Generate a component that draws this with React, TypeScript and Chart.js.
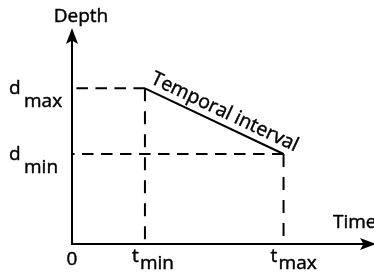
import React, { useEffect, useRef } from "react";
import { Chart, registerables } from "chart.js";

Chart.register(...registerables);

// ---- data ----
const tMin = 1;
const tMax = 2.9;
const dMin = 1;
const dMax = 1.73;
const timeAxisMax = 4.14;
const depthAxisMax = 2.4;

const intervalTimes = [tMin, tMax];
const intervalDepths = [dMax, dMin];

const timeTicks = [0, tMin, tMax];
const timeTickMain = ["0", "t", "t"];
const timeTickSub = ["", "min", "max"];

const depthTicks = [dMax, dMin];
const depthTickMain = ["d", "d"];
const depthTickSub = ["max", "min"];

const xTitle = "Time";
const yTitle = "Depth";
const intervalLabel = "Temporal interval";

const FAMILY = "'Open Sans', 'DejaVu Sans', sans-serif";
const FONT = "19px " + FAMILY;
const INK = "#000";
const H_DASH = [11.5, 7.5];
const V_DASH = [13, 10];

function txt(ctx: CanvasRenderingContext2D, s: string, x: number, y: number) {
  ctx.fillText(s, x, y);
  ctx.strokeText(s, x, y);
}

const diagramPlugin = {
  id: "diagram",
  afterDatasetsDraw(chart: any) {
    const ctx = chart.ctx as CanvasRenderingContext2D;
    const xs = chart.scales.x;
    const ys = chart.scales.y;
    const x0 = xs.getPixelForValue(0);
    const y0 = ys.getPixelForValue(0);
    const xEnd = xs.getPixelForValue(timeAxisMax);
    const yEnd = ys.getPixelForValue(depthAxisMax);
    ctx.save();
    ctx.strokeStyle = INK;
    ctx.fillStyle = INK;
    ctx.lineWidth = 2;
    // axes
    ctx.beginPath();
    ctx.moveTo(x0, y0 + 1);
    ctx.lineTo(x0, yEnd + 10);
    ctx.moveTo(x0 - 1, y0);
    ctx.lineTo(xEnd - 6, y0);
    ctx.stroke();
    // y arrow
    ctx.beginPath();
    ctx.moveTo(x0, yEnd);
    ctx.lineTo(x0 + 6, yEnd + 16);
    ctx.lineTo(x0, yEnd + 12.5);
    ctx.lineTo(x0 - 6, yEnd + 16);
    ctx.closePath();
    ctx.fill();
    // x arrow
    const tip = xEnd + 2;
    ctx.beginPath();
    ctx.moveTo(tip, y0);
    ctx.lineTo(tip - 16, y0 - 6);
    ctx.lineTo(tip - 12.5, y0);
    ctx.lineTo(tip - 16, y0 + 6);
    ctx.closePath();
    ctx.fill();

    ctx.font = FONT;
    ctx.lineWidth = 0.45;
    ctx.lineJoin = "round";
    ctx.textBaseline = "alphabetic";
    // axis titles
    ctx.textAlign = "center";
    txt(ctx, yTitle, x0 + 9, yEnd - 6);
    ctx.textAlign = "left";
    txt(ctx, xTitle, xEnd - 41, y0 - 16);

    // time tick labels
    timeTicks.forEach((v, i) => {
      const px = xs.getPixelForValue(v);
      if (!timeTickSub[i]) {
        ctx.textAlign = "center";
        txt(ctx, timeTickMain[i], px, y0 + 21);
      } else {
        ctx.textAlign = "left";
        txt(ctx, timeTickMain[i], px - 13, y0 + 18);
        txt(ctx, timeTickSub[i], px - 5, y0 + 25);
      }
    });
    // depth tick labels
    depthTicks.forEach((v, i) => {
      const py = ys.getPixelForValue(v);
      ctx.textAlign = "left";
      txt(ctx, depthTickMain[i], 9, py + 6);
      txt(ctx, depthTickSub[i], 24, py + 19);
    });

    // interval label
    const ax = xs.getPixelForValue(intervalTimes[0]);
    const ay = ys.getPixelForValue(intervalDepths[0]);
    const bx = xs.getPixelForValue(intervalTimes[1]);
    const by = ys.getPixelForValue(intervalDepths[1]);
    const ang = Math.atan2(by - ay, bx - ax);
    ctx.translate(ax, ay);
    ctx.rotate(ang);
    ctx.font = "19.5px " + FAMILY;
    ctx.textAlign = "left";
    txt(ctx, intervalLabel, 2, -7);
    ctx.restore();
  },
};

export default function App() {
  const ref = useRef<HTMLCanvasElement>(null);
  useEffect(() => {
    if (!ref.current) return;
    const seg = (pts: { x: number; y: number }[], dash: number[]) => ({
      data: pts,
      showLine: true,
      borderColor: INK,
      borderWidth: 2,
      borderDash: dash,
      pointRadius: 0,
      pointHoverRadius: 0,
      fill: false,
      tension: 0,
    });
    const chart = new Chart(ref.current, {
      type: "scatter",
      data: {
        datasets: [
          seg(intervalTimes.map((t, i) => ({ x: t, y: intervalDepths[i] })), []),
          seg([{ x: tMin, y: dMax }, { x: 0, y: dMax }], H_DASH),
          seg([{ x: tMin, y: dMax }, { x: tMin, y: 0 }], V_DASH),
          seg([{ x: tMax, y: dMin }, { x: 0, y: dMin }], H_DASH),
          seg([{ x: tMax, y: dMin }, { x: tMax, y: 0 }], V_DASH),
        ] as any,
      },
      options: {
        animation: false,
        responsive: false,
        devicePixelRatio: 1,
        layout: { padding: { left: 72, right: 0, top: 28, bottom: 29 } },
        plugins: { legend: { display: false }, tooltip: { enabled: false } },
        events: [],
        scales: {
          x: { type: "linear", min: 0, max: timeAxisMax, display: false },
          y: { type: "linear", min: 0, max: depthAxisMax, display: false },
        },
      } as any,
      plugins: [diagramPlugin],
    });
    return () => chart.destroy();
  }, []);
  return (
    <div style={{ position: "absolute", left: 0, top: 0, width: 374, height: 273, background: "#fff" }}>
      <canvas ref={ref} width={374} height={273} style={{ width: 374, height: 273, display: "block" }} />
    </div>
  );
}
